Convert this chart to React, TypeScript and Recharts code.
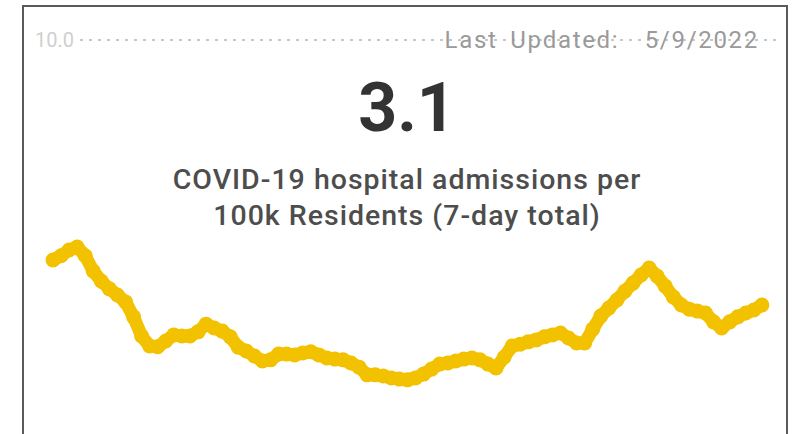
import React from 'react';
import { LineChart, Line, XAxis, YAxis, ReferenceLine } from 'recharts';

// 7-day total of COVID-19 hospital admissions per 100k residents, one point per day
const admissions = [
    4.27, 4.38, 4.53, 4.61, 4.38, 3.98, 3.72, 3.52, 3.36, 3.18,
    2.79, 2.29, 2.03, 2.01, 2.16, 2.32, 2.29, 2.29, 2.40, 2.60,
    2.50, 2.42, 2.27, 2.00, 1.90, 1.77, 1.64, 1.67, 1.82, 1.82,
    1.80, 1.85, 1.88, 1.80, 1.72, 1.69, 1.67, 1.59, 1.48, 1.28,
    1.28, 1.25, 1.20, 1.17, 1.15, 1.20, 1.30, 1.43, 1.56, 1.59,
    1.64, 1.69, 1.72, 1.67, 1.56, 1.46, 1.74, 2.03, 2.08, 2.14,
    2.19, 2.27, 2.32, 2.37, 2.24, 2.11, 2.11, 2.47, 2.81, 3.02,
    3.23, 3.46, 3.67, 3.88, 4.06, 3.85, 3.59, 3.31, 3.10, 2.99,
    2.94, 2.89, 2.66, 2.50, 2.66, 2.79, 2.89, 2.97, 3.10,
];
const yTicks = [10];
const headline = '3.1';
const subtitle = ['COVID-19 hospital admissions per', '100k Residents (7-day total)'];
const updated = 'Last Updated:  5/9/2022';

const data = admissions.map((v, i) => ({ i, v }));

const YELLOW = '#F2C200';
const FONT = 'Roboto, "DejaVu Sans", sans-serif';

function YTick({ y, payload }: any) {
    return (
        <g>
            <rect x={32} y={y - 12} width={48} height={22} fill="#fff" />
            <text x={35} y={y + 7} fill="#cfcfcf" fontSize={20} fontFamily={FONT}>
                {Number(payload.value).toFixed(1)}
            </text>
        </g>
    );
}

export default function App() {
    return (
        <div style={{ position: 'fixed', left: 0, top: 0, width: 797, height: 434, background: '#fff', overflow: 'hidden' }}>
            <style>{'body{margin:0}'}</style>
            <div style={{ position: 'absolute', left: 22, top: 5, width: 762, height: 460, border: '2px solid #5a5a5a' }} />
            <LineChart
                width={797}
                height={434}
                data={data}
                margin={{ top: 40, right: 19, bottom: 10, left: 0 }}
                style={{ position: 'absolute', left: 0, top: 0 }}
            >
                <XAxis dataKey="i" type="number" domain={[0, 90]} hide />
                <YAxis domain={[0, 10]} ticks={yTicks} width={53} axisLine={false} tickLine={false} tick={(p: any) => <YTick {...p} />} />
                <ReferenceLine y={10} stroke="#c8c8c8" strokeWidth={2} strokeDasharray="3 6" />
                <Line
                    type="linear"
                    dataKey="v"
                    stroke={YELLOW}
                    strokeWidth={13}
                    strokeLinejoin="round"
                    dot={{ r: 7.5, fill: YELLOW, stroke: 'none' }}
                    isAnimationActive={false}
                />
            </LineChart>
            <div style={{ position: 'absolute', right: 38, top: 26, fontFamily: FONT, fontSize: 24, color: '#9a9a9a', whiteSpace: 'pre', letterSpacing: 1.7, wordSpacing: 5 }}>
                {updated}
            </div>
            <div style={{ position: 'absolute', left: 0, width: 814, top: 68, textAlign: 'center', fontFamily: FONT, fontWeight: 700, fontSize: 68, color: '#333' }}>
                {headline}
            </div>
            <div style={{ position: 'absolute', left: 0, width: 814, top: 162, textAlign: 'center', fontFamily: FONT, fontWeight: 500, fontSize: 28.5, lineHeight: '36px', color: '#4d4d4d', letterSpacing: 1 }}>
                {subtitle.map(s => <div key={s}>{s}</div>)}
            </div>
        </div>
    );
}
